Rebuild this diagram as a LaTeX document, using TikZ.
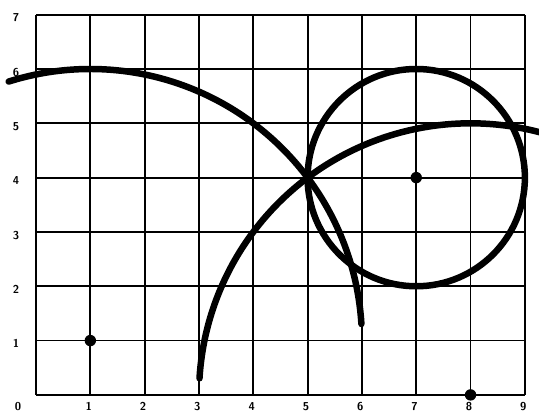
\documentclass[tikz,border=0pt]{standalone}
\usepackage{tikz}

\begin{document}
\begin{tikzpicture}[
	gridline/.style={line width=0.95pt},
	curve/.style={line width=3.4pt, line cap=round},
	dot/.style={circle, fill, inner sep=0pt, minimum size=0.21cm},
	ticklabel/.style={font=\fontsize{6}{7}\selectfont\bfseries\sffamily, inner sep=0pt}
	]
	\useasboundingbox (-0.663,-0.297) rectangle (9.26,7.27);

	% ======================
	% Grid and axis labels
	% ======================
	\foreach \x in {0,...,9}
		\draw[gridline] (\x,0) -- (\x,7);
	\foreach \y in {0,...,7}
		\draw[gridline] (0,\y) -- (9,\y);

	\foreach \y in {1,...,7}
		\node[ticklabel] (ylab\y) at (-0.37,\y-0.06) {\y};
	\node[ticklabel] (xlab0) at (-0.33,-0.21) {0};
	\foreach \x in {1,...,9}
		\node[ticklabel] (xlab\x) at (\x-0.03,-0.21) {\x};

	% ======================
	% Marked points
	% ======================
	\node[dot] (ptA) at (1,1) {};
	\node[dot] (ptB) at (7,4) {};
	\node[dot] (ptC) at (8,0) {};

	% ======================
	% Curves
	% ======================
	\draw[curve] (ptA.center) ++(107.5:5) arc[start angle=107.5, end angle=3.5, radius=5];
	\draw[curve] (ptB.center) circle[radius=2];
	\draw[curve] (ptC.center) ++(176.5:5) arc[start angle=176.5, end angle=72, radius=5];

\end{tikzpicture}
\end{document}
